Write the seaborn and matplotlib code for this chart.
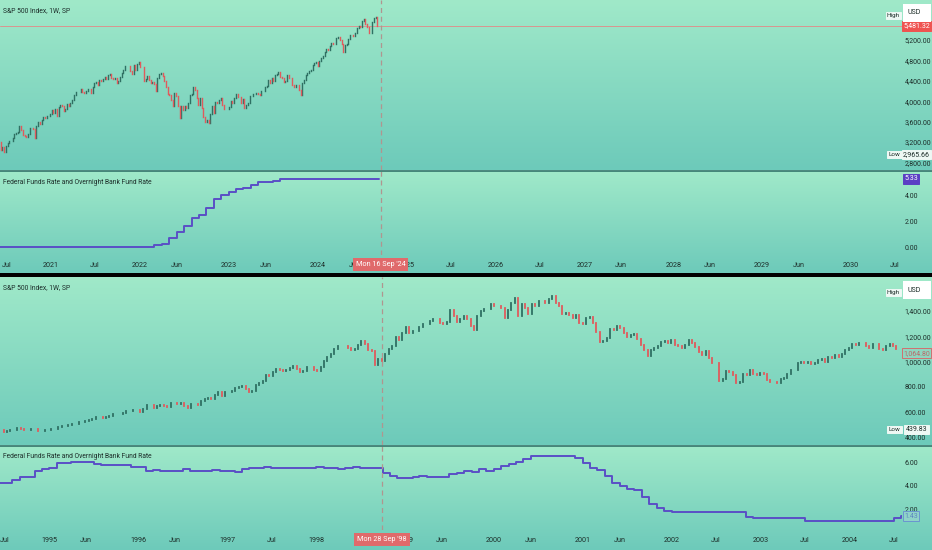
import numpy as np
import pandas as pd
import matplotlib
matplotlib.use("Agg")
import matplotlib.pyplot as plt
import matplotlib.transforms as mtransforms
from matplotlib.patches import Rectangle
from matplotlib.lines import Line2D
from matplotlib.colors import LinearSegmentedColormap
import seaborn as sns

# ---- data: S&P 500 weekly closes, Jun 2020 - Sep 2024 (top chart)
spx_top_start = "2020-06-08"
spx_top_open0 = 3193.9
spx_top = [
    3041, 3098, 3009, 3130, 3185, 3225, 3216, 3271, 3351, 3373, 3397, 3508, 3427, 3341, 3319,
    3298, 3348, 3477, 3484, 3465, 3270, 3510, 3585, 3558, 3638, 3699, 3663, 3709, 3703, 3756,
    3825, 3768, 3841, 3714, 3887, 3934, 3907, 3811, 3842, 3943, 3913, 3975, 4020, 4129, 4185,
    4180, 4181, 4233, 4174, 4156, 4204, 4230, 4247, 4166, 4281, 4352, 4370, 4327, 4412, 4395,
    4437, 4468, 4442, 4509, 4535, 4459, 4433, 4455, 4357, 4391, 4471, 4545, 4605, 4697, 4683,
    4698, 4595, 4538, 4712, 4620, 4726, 4766,
    4677, 4663, 4398, 4432, 4501, 4419, 4349, 4385, 4329, 4204, 4463, 4543, 4546, 4488, 4393,
    4272, 4132, 4123, 4024, 3901, 4158, 4109, 3901, 3675, 3912, 3825, 3899, 3863, 3962, 4130,
    4145, 4280, 4228, 4058, 3924, 4067, 3873, 3693, 3586, 3640, 3583, 3753, 3901, 3771, 3993,
    3965, 4026, 4072, 3934, 3852, 3845, 3840,
    3895, 3999, 3973, 4071, 4136, 4090, 4079, 3970, 4046, 3862, 3917, 3971, 4109, 4105, 4138,
    4133, 4169, 4136, 4124, 4192, 4205, 4282, 4299, 4410, 4348, 4450, 4399, 4505, 4536, 4582,
    4478, 4464, 4370, 4406, 4516, 4457, 4450, 4320, 4288, 4309, 4327, 4224, 4117, 4358, 4415,
    4514, 4559, 4595, 4604, 4719, 4755, 4770,
    4697, 4784, 4840, 4891, 4959, 5027, 5006, 5089, 5137, 5124, 5117, 5234, 5254, 5204, 5123,
    4967, 5100, 5128, 5223, 5303, 5305, 5278, 5347, 5432, 5465, 5460, 5567, 5615, 5505, 5459,
    5347, 5344, 5554, 5634, 5648, 5481.32,
]

# Federal funds rate, monthly, Jun 2020 - Sep 2024
fed_top_start = "2020-06-01"
fed_top = [
    0.08, 0.09, 0.10, 0.09, 0.09, 0.09, 0.09,
    0.09, 0.08, 0.07, 0.07, 0.06, 0.08, 0.10, 0.09, 0.08, 0.08, 0.08, 0.08,
    0.08, 0.08, 0.20, 0.33, 0.77, 1.21, 1.68, 2.33, 2.56, 3.08, 3.78, 4.10,
    4.33, 4.57, 4.65, 4.83, 5.06, 5.08, 5.12, 5.33, 5.33, 5.33, 5.33, 5.33,
    5.33, 5.33, 5.33, 5.33, 5.33, 5.33, 5.33, 5.33, 5.33,
]

# S&P 500 closes every two weeks, Jun 1994 - Aug 2004 (bottom chart)
spx_bot_start = "1994-06-13"
spx_bot_open0 = 457.0
spx_bot = [
    458.5, 444.3, 454.0, 458.3, 461.9, 473.8, 468.2, 459.7, 455.1, 465.9, 467.9, 451.4, 453.3, 458.8, 459.3,
    465.9, 470.4, 481.5, 488.1, 489.6, 500.9, 506.4, 508.5, 520.1, 519.2, 533.4, 539.8, 544.8,
    560.3, 562.1, 555.1, 560.1, 572.7, 581.7, 582.6, 587.5, 590.6, 607.6, 606.9, 616.3, 615.9,
    601.8, 621.6, 656.4, 659.1, 633.5, 650.6, 655.9, 645.1, 641.6, 668.3, 669.1, 665.9, 670.6,
    646.2, 635.9, 662.1, 667.0, 655.7, 687.0, 701.5, 710.8, 703.8, 737.6, 757.0, 728.6, 756.8,
    759.5, 770.5, 789.6, 801.8, 804.9, 784.1, 757.9, 766.3, 812.9, 829.8, 848.3, 893.3, 887.3,
    916.7, 938.8, 933.5, 923.5, 929.1, 950.5, 965.0, 944.2, 914.6, 928.4, 955.4, 953.4, 936.5,
    927.7, 957.6, 1003.5, 1034.2, 1055.7, 1099.2, 1122.7, 1122.7, 1121.0, 1108.7, 1090.8, 1098.8, 1133.2,
    1164.3, 1140.8, 1089.5, 1081.2, 973.9, 1020.1, 1002.6, 1056.4, 1098.7, 1125.7, 1192.3, 1166.5, 1226.3,
    1275.1, 1225.2, 1239.4, 1239.2, 1275.5, 1299.3, 1293.7, 1319.0, 1335.2, 1337.8, 1301.8, 1293.6, 1315.3,
    1403.3, 1356.9, 1313.7, 1336.6, 1357.2, 1335.4, 1282.8, 1247.4, 1362.9, 1396.1, 1416.6, 1417.0, 1458.3,
    1441.5, 1441.4, 1424.4, 1346.1, 1409.2, 1464.5, 1498.6, 1356.6, 1452.4, 1420.9, 1378.0, 1456.9, 1441.5,
    1478.9, 1480.2, 1462.9, 1491.7, 1520.8, 1465.8, 1436.5, 1374.2, 1379.6, 1365.9, 1341.8, 1369.9, 1305.9,
    1298.4, 1342.5, 1349.5, 1301.5, 1234.2, 1150.5, 1160.3, 1183.5, 1253.1, 1245.7, 1277.9, 1264.9, 1225.4,
    1190.6, 1210.9, 1214.4, 1181.7, 1133.6, 1092.5, 1040.9, 1091.7, 1104.6, 1120.3, 1150.3, 1158.3, 1144.9,
    1172.5, 1127.6, 1122.2, 1104.2, 1131.8, 1166.2, 1147.4, 1111.0, 1076.3, 1055.0, 1083.8, 1027.5, 989.1,
    989.0, 847.8, 864.2, 928.8, 916.1, 889.8, 827.4, 835.3, 897.7, 894.7, 930.6, 901.6, 895.8,
    908.6, 901.8, 855.7, 834.9, 841.2, 833.3, 863.5, 868.3, 898.8, 933.4, 933.2, 987.8, 995.7,
    985.7, 993.3, 980.2, 990.7, 1008.0, 1018.6, 996.9, 1038.7, 1028.9, 1053.2, 1035.3, 1061.5, 1088.7,
    1108.5, 1139.8, 1131.1, 1145.8, 1144.9, 1120.6, 1108.1, 1139.3, 1140.6, 1098.7, 1093.6, 1122.5, 1135.0,
    1125.4, 1101.4, 1101.7, 1064.8,
]

# Federal funds rate, monthly, Jun 1994 - Aug 2004
fed_bot_start = "1994-06-01"
fed_bot = [
    4.25, 4.26, 4.47, 4.73, 4.76, 5.29, 5.45,
    5.53, 5.92, 5.98, 6.05, 6.01, 6.00, 5.85, 5.74, 5.80, 5.76, 5.80, 5.60,
    5.56, 5.22, 5.31, 5.22, 5.24, 5.27, 5.40, 5.22, 5.30, 5.24, 5.31, 5.29,
    5.25, 5.19, 5.39, 5.51, 5.50, 5.56, 5.52, 5.54, 5.54, 5.50, 5.52, 5.50,
    5.56, 5.51, 5.49, 5.45, 5.49, 5.56, 5.54, 5.55, 5.51, 5.07, 4.83, 4.68,
    4.63, 4.76, 4.81, 4.74, 4.74, 4.76, 4.99, 5.07, 5.22, 5.20, 5.42, 5.30,
    5.45, 5.73, 5.85, 6.02, 6.27, 6.53, 6.54, 6.50, 6.52, 6.51, 6.51, 6.40,
    5.98, 5.49, 5.31, 4.80, 4.21, 3.97, 3.77, 3.65, 3.07, 2.49, 2.09, 1.82,
    1.73, 1.74, 1.73, 1.75, 1.75, 1.75, 1.73, 1.74, 1.75, 1.75, 1.34, 1.24,
    1.24, 1.26, 1.25, 1.26, 1.26, 1.22, 1.01, 1.03, 1.01, 1.01, 1.00, 0.98,
    1.00, 1.01, 1.00, 1.00, 1.00, 1.03, 1.26, 1.43,
]

cross_top = "2024-09-16"
cross_bot = "1998-09-28"

top_tick_dates = ["2020-07-01", "2021-01-01", "2021-07-01", "2022-01-01", "2022-06-01", "2023-01-01",
                  "2023-06-01", "2024-01-01", "2024-06-01", "2025-01-01", "2025-07-01", "2026-01-01",
                  "2026-07-01", "2027-01-01", "2027-06-01", "2028-01-01", "2028-06-01", "2029-01-01",
                  "2029-06-01", "2030-01-01", "2030-07-01"]
top_tick_labels = ["Jul", "2021", "Jul", "2022", "Jun", "2023", "Jun", "2024", "Jun", "2025", "Jul",
                   "2026", "Jul", "2027", "Jun", "2028", "Jun", "2029", "Jun", "2030", "Jul"]
bot_tick_dates = ["1994-07-01", "1995-01-01", "1995-06-01", "1996-01-01", "1996-06-01", "1997-01-01",
                  "1997-07-01", "1998-01-01", "1998-07-01", "1999-01-01", "1999-06-01", "2000-01-01",
                  "2000-06-01", "2001-01-01", "2001-06-01", "2002-01-01", "2002-07-01", "2003-01-01",
                  "2003-07-01", "2004-01-01", "2004-07-01"]
bot_tick_labels = ["Jul", "1995", "Jun", "1996", "Jun", "1997", "Jul", "1998", "Jul", "1999", "Jun",
                   "2000", "Jun", "2001", "Jun", "2002", "Jul", "2003", "Jul", "2004", "Jul"]

top_price_ticks = [2800, 3200, 3600, 4000, 4400, 4800, 5200]
top_fed_ticks = [0, 2, 4]
bot_price_ticks = [400, 600, 800, 1000, 1200, 1400]
bot_fed_ticks = [2, 4, 6]

top_high_low = (5481.32, 2965.66)
bot_high_low = (1064.80, 439.83)

# ---- style
sns.set_theme(style="white")
plt.rcParams['font.family'] = ['Roboto', 'DejaVu Sans']

UP = '#2f7063'
DOWN = '#e05a5c'
FED = '#5a4fc6'
TXT = '#1d2e2a'
FS = 5.0        # right scale labels
FS_T = 5.2      # time axis labels
FS_H = 4.9      # pane titles
PX_YEAR = 88.9

W, H = 932, 550
fig = plt.figure(figsize=(W / 100, H / 100), dpi=100)
bg_cmap = LinearSegmentedColormap.from_list('pane', ['#a0e9c9', '#6dcaba'])


def rect(x0, y0, x1, y1):
    return [x0 / W, 1 - y1 / H, (x1 - x0) / W, (y1 - y0) / H]


def fyear(d):
    d = pd.DatetimeIndex(pd.to_datetime(d))
    days = np.where(d.is_leap_year, 366.0, 365.0)
    return np.asarray(d.year + (d.dayofyear - 1) / days, dtype=float)


def pane_bg(y0, y1):
    bg = fig.add_axes(rect(0, y0, W, y1))
    bg.imshow(np.linspace(0, 1, 256).reshape(-1, 1), cmap=bg_cmap, aspect='auto',
              extent=[0, 1, 0, 1], origin='upper')
    bg.set_axis_off()


def style_ax(ax, x0, ticks, fmt):
    ax.set_facecolor('none')
    ax.set_xlim(x0, x0 + 902 / PX_YEAR)
    for s in ax.spines.values():
        s.set_visible(False)
    ax.set_yticks(ticks)
    ax.set_yticklabels([fmt.format(t) for t in ticks])
    ax.yaxis.tick_right()
    ax.tick_params(axis='y', length=0, pad=2.0, labelsize=FS, labelcolor=TXT)
    ax.set_xlabel('')
    ax.set_ylabel('')


def candles(ax, start, open0, closes, step, lw):
    closes = np.asarray(closes, dtype=float)
    opens = np.concatenate([[open0], closes[:-1]])
    x = fyear(pd.date_range(start, periods=len(closes), freq=f'{step}D'))
    up = closes >= opens
    for mask, col in [(up, UP), (~up, DOWN)]:
        lc = ax.vlines(x[mask], opens[mask], closes[mask], colors=col, lw=lw)
        lc.set_capstyle('projecting')
    return x


def fed_line(ax, start, values, x_end):
    x = np.append(fyear(pd.date_range(start, periods=len(values), freq='MS')), x_end)
    y = np.append(values, values[-1])
    sns.lineplot(x=x, y=y, ax=ax, color=FED, lw=1.4, drawstyle='steps-post',
                 estimator=None, sort=False)


def side_box(ax, y, text, x0, x1, fc, tc, ec=None, fs=FS):
    trans = mtransforms.blended_transform_factory(fig.transFigure, ax.transData)
    ax.text((x0 + x1) / 2 / W, y, text, transform=trans, ha='center', va='center',
            fontsize=fs, color=tc, clip_on=False, zorder=20,
            bbox=dict(boxstyle='square,pad=0.2', fc=fc, ec=ec or fc, lw=0.7))


def fig_box(x0, y0, x1, y1, text, fc='white'):
    fig.patches.append(Rectangle((x0 / W, 1 - y1 / H), (x1 - x0) / W, (y1 - y0) / H,
                                 transform=fig.transFigure, fc=fc, ec='none', zorder=30))
    fig.text((x0 + 4) / W, 1 - (y0 + y1) / 2 / H, text, fontsize=FS, color=TXT,
             va='center', ha='left', zorder=31)


def build(y_top, start_x, spx, fed, cross, ticks, labels, price_ticks, fed_ticks,
          price_lim, fed_lim, hl, last_filled, step, lw):
    # panes: price + fed + time row
    py0, py1 = y_top, y_top + (170 if y_top == 0 else 168)
    fy0, fy1 = py1 + 1, py1 + 85
    pane_bg(py0, py1)
    pane_bg(fy0, fy1 + 18 if y_top == 0 else H)

    axp = fig.add_axes(rect(0, py0, 902, py1))
    axf = fig.add_axes(rect(0, fy0, 902, fy1))
    x = candles(axp, spx[0], spx[1], spx[2], step, lw)
    fed_line(axf, fed[0], fed[1], x[-1] + 7 / 365.25)

    style_ax(axp, start_x, price_ticks, '{:,.2f}')
    style_ax(axf, start_x, fed_ticks, '{:.2f}')
    axp.set_ylim(*price_lim)
    axf.set_ylim(*fed_lim)
    axp.set_xticks([])
    axf.set_xticks(fyear(ticks))
    axf.set_xticklabels(labels)
    axf.tick_params(axis='x', length=0, pad=5.0, labelsize=FS_T, labelcolor=TXT)

    xc = fyear([cross])[0]
    for a in (axp, axf):
        a.axvline(xc, color='#b0958f', lw=0.9, ls=(0, (4, 3)), zorder=5)
    axf.annotate(pd.Timestamp(cross).strftime("%a %d %b '%y"), xy=(xc, 0),
                 xycoords=('data', 'axes fraction'),
                 xytext=(0, -9.5 * 0.72), textcoords='offset points', ha='center', va='center',
                 fontsize=FS_T, color='white', zorder=20, annotation_clip=False,
                 bbox=dict(boxstyle='square,pad=0.4', fc='#e06a6b', ec='none'))

    # titles
    fig.text(3 / W, 1 - (py0 + 11) / H, 'S&P 500 Index, 1W, SP', fontsize=FS_H, color=TXT, va='center')
    fig.text(3 / W, 1 - (fy0 + 11) / H, 'Federal Funds Rate and Overnight Bank Fund Rate',
             fontsize=FS_H, color=TXT, va='center')

    # right-hand price labels
    high, low = hl
    if last_filled:
        axp.axhline(high, color='#d99590', lw=0.7, zorder=1)
        side_box(axp, high, f'{high:,.2f}', 904, 929, '#ef5350', 'white')
        side_box(axf, fed[1][-1], f'{fed[1][-1]:.2f}', 904, 918, '#5b3fc4', 'white')
    else:
        side_box(axp, high, f'{high:,.2f}', 904, 929, '#8fd6c0', '#b86a6a', ec='#d07070')
        side_box(axf, fed[1][-1], f'{fed[1][-1]:.2f}', 904, 918, '#8fd3c8', '#5d86c0', ec='#6a95d0')
    low_y = price_lim[0] + (price_lim[1] - price_lim[0]) * 15.5 / (py1 - py0)
    side_box(axp, low_y, f'{low:,.2f}', 904, 929, '#eef8f4', TXT)
    side_box(axp, low_y, 'Low', 889, 900, '#eef8f4', TXT, fs=FS - 0.4)
    hi_y = price_lim[1] - (price_lim[1] - price_lim[0]) * 15.5 / (py1 - py0)
    side_box(axp, hi_y, 'High', 888, 899, '#eef8f4', TXT, fs=FS - 0.4)
    fig_box(903, py0 + 4, 931, py0 + 22, 'USD')


build(0, fyear(['2020-06-05'])[0],
      (spx_top_start, spx_top_open0, spx_top), (fed_top_start, fed_top), cross_top,
      top_tick_dates, top_tick_labels, top_price_ticks, top_fed_ticks,
      (2652, 5984), (-0.54, 5.92), top_high_low, True, 7, 1.0)
build(277, fyear(['1994-06-12'])[0],
      (spx_bot_start, spx_bot_open0, spx_bot), (fed_bot_start, fed_bot), cross_bot,
      bot_tick_dates, bot_tick_labels, bot_price_ticks, bot_fed_ticks,
      (340, 1668), (0.24, 7.39), bot_high_low, False, 14, 1.3)

# separators between the panes
for yy in (170.5, 445.5):
    fig.add_artist(Line2D([0, 1], [1 - yy / H] * 2, transform=fig.transFigure,
                          color='#3c7d72', lw=1.3, zorder=40))
fig.patches.append(Rectangle((0, 1 - 277 / H), 1, 4 / H, transform=fig.transFigure,
                             fc='black', ec='none', zorder=40))

fig.savefig('out.png', dpi=100)
